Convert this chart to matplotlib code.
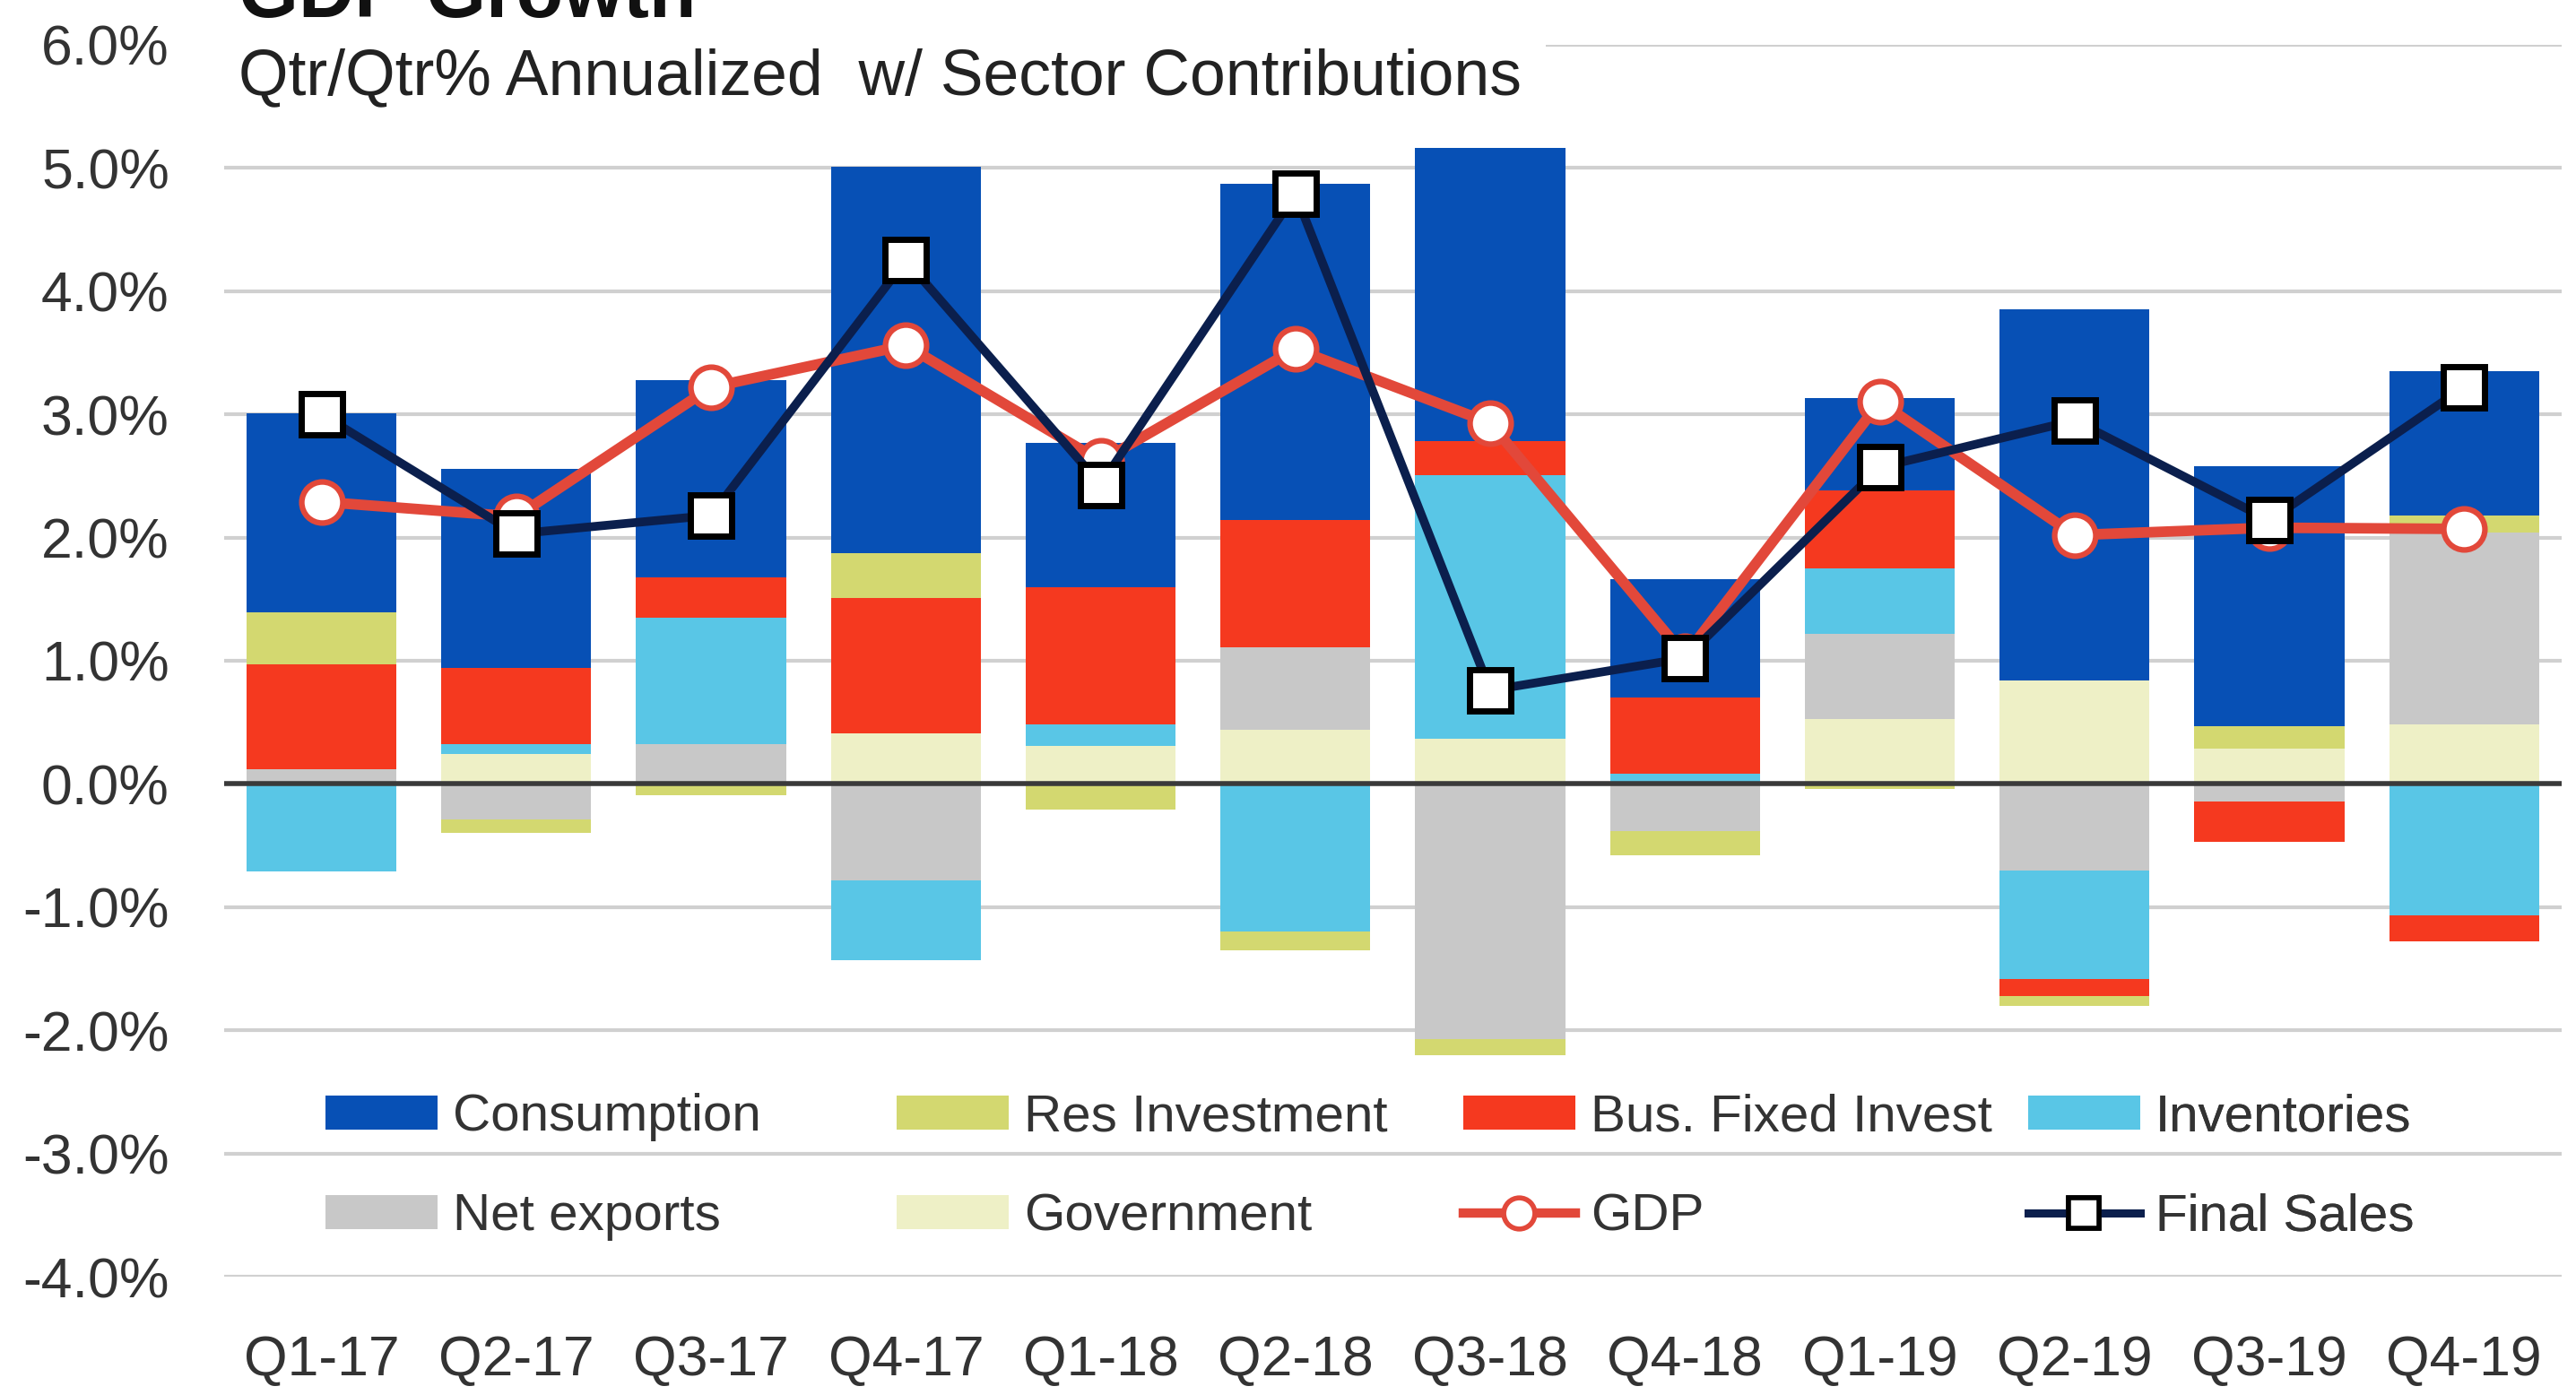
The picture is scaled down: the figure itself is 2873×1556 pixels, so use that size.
import matplotlib
matplotlib.use("Agg")
import matplotlib.pyplot as plt
from matplotlib.patches import Patch, Rectangle
from matplotlib.lines import Line2D
import numpy as np

plt.rcParams['font.family'] = ['Liberation Sans Narrow', 'Liberation Sans', 'DejaVu Sans']

quarters = ['Q1-17', 'Q2-17', 'Q3-17', 'Q4-17', 'Q1-18', 'Q2-18',
            'Q3-18', 'Q4-18', 'Q1-19', 'Q2-19', 'Q3-19', 'Q4-19']

# sector contributions, percentage points
consumption = [1.62, 1.62, 1.60, 3.14, 1.17, 2.73, 2.38, 0.96, 0.75, 3.01, 2.11, 1.17]
res_investment = [0.42, -0.11, -0.09, 0.36, -0.21, -0.15, -0.13, -0.20, -0.04, -0.08, 0.18, 0.14]
bus_fixed = [0.85, 0.62, 0.33, 1.10, 1.12, 1.03, 0.27, 0.62, 0.63, -0.14, -0.33, -0.21]
inventories = [-0.71, 0.08, 1.03, -0.65, 0.17, -1.20, 2.14, 0.08, 0.53, -0.88, 0.0, -1.07]
net_exports = [0.12, -0.29, 0.32, -0.78, 0.0, 0.67, -2.07, -0.38, 0.69, -0.70, -0.14, 1.56]
government = [0.0, 0.24, 0.0, 0.41, 0.31, 0.44, 0.37, 0.0, 0.53, 0.84, 0.29, 0.48]

gdp = [2.29, 2.17, 3.22, 3.56, 2.62, 3.53, 2.93, 1.04, 3.10, 2.02, 2.08, 2.07]
final_sales = [3.00, 2.03, 2.18, 4.25, 2.43, 4.79, 0.76, 1.02, 2.57, 2.95, 2.14, 3.22]

# stacking order, bottom to top
series = [
    ('Government', government, '#eef0c6'),
    ('Net exports', net_exports, '#c8c8c8'),
    ('Inventories', inventories, '#59c6e6'),
    ('Bus. Fixed Invest', bus_fixed, '#f5391f'),
    ('Res Investment', res_investment, '#d3d870'),
    ('Consumption', consumption, '#0750b5'),
]
gdp_color = '#e2483a'
fs_color = '#0b1f4d'
text_color = '#333333'

fig = plt.figure(figsize=(28.73, 15.56), dpi=100)
ax = fig.add_axes([0.087, 0.0848, 0.9074, 0.8831])

x = np.arange(len(quarters))
pos_bottom = np.zeros(len(quarters))
neg_bottom = np.zeros(len(quarters))
handles = {}
for name, vals, color in series:
    v = np.array(vals)
    bottom = np.where(v >= 0, pos_bottom, neg_bottom)
    ax.bar(x, v, width=0.77, bottom=bottom, color=color, zorder=2)
    pos_bottom += np.where(v >= 0, v, 0)
    neg_bottom += np.where(v < 0, v, 0)
    handles[name] = Patch(facecolor=color)

ax.plot(x, gdp, color=gdp_color, lw=8.5, marker='o', markersize=33,
        markerfacecolor='white', markeredgecolor=gdp_color, markeredgewidth=4.5, zorder=4)
ax.plot(x, final_sales, color=fs_color, lw=7, marker='s', markersize=33,
        markerfacecolor='white', markeredgecolor='black', markeredgewidth=5, zorder=5)

ax.axhline(0, color='#3a3a3a', lw=4, zorder=3)

ax.set_xlim(-0.5, len(quarters) - 0.5)
ax.set_ylim(-4, 6)
ax.set_yticks(np.arange(-4, 7, 1))
ax.set_yticklabels([f'{t:.1f}%' for t in np.arange(-4, 7, 1)])
ax.set_xticks(x)
ax.set_xticklabels(quarters)
ax.tick_params(axis='both', length=0, labelsize=45, colors=text_color)
ax.tick_params(axis='y', pad=44)
ax.tick_params(axis='x', pad=46)
ax.grid(axis='y', color='#d0d0d0', lw=3, zorder=0)
ax.set_axisbelow(True)
for s in ax.spines.values():
    s.set_visible(False)

# legend, one block per column
h_gdp = Line2D([], [], color=gdp_color, lw=7.5, marker='o', markersize=25,
               markerfacecolor='white', markeredgecolor=gdp_color, markeredgewidth=4)
h_fs = Line2D([], [], color=fs_color, lw=6.5, marker='s', markersize=25,
              markerfacecolor='white', markeredgecolor='black', markeredgewidth=4)
columns = [
    ([handles['Consumption'], handles['Net exports']], ['Consumption', 'Net exports']),
    ([handles['Res Investment'], handles['Government']], ['Res Investment', 'Government']),
    ([handles['Bus. Fixed Invest'], h_gdp], ['Bus. Fixed Invest', 'GDP']),
    ([handles['Inventories'], h_fs], ['Inventories', 'Final Sales']),
]
col_x = [0.0433, 0.2876, 0.5301, 0.7717]
for (hs, ls), cx in zip(columns, col_x):
    leg = ax.legend(hs, ls, loc='center left', bbox_to_anchor=(cx, 0.089),
                    bbox_transform=ax.transAxes, frameon=False, fontsize=42,
                    handlelength=2.14, handleheight=0.63, handletextpad=0.3,
                    labelspacing=0.98, borderpad=0, borderaxespad=0)
    for t in leg.get_texts():
        t.set_color(text_color)
    ax.add_artist(leg)

# white box behind the titles covering the top gridline
fig.add_artist(Rectangle((0.087, 0.91), 0.513, 0.09, transform=fig.transFigure,
                         facecolor='white', edgecolor='none', zorder=1))
fig.text(0.0926, 0.988, 'GDP Growth', fontsize=62, fontweight='bold',
         va='baseline', ha='left', color='#111111', zorder=3)
fig.text(0.0926, 0.944, 'Qtr/Qtr% Annualized  w/ Sector Contributions', fontsize=51.5,
         va='center', ha='left', color='#222222', zorder=3)

fig.savefig('out.png', dpi=100)
